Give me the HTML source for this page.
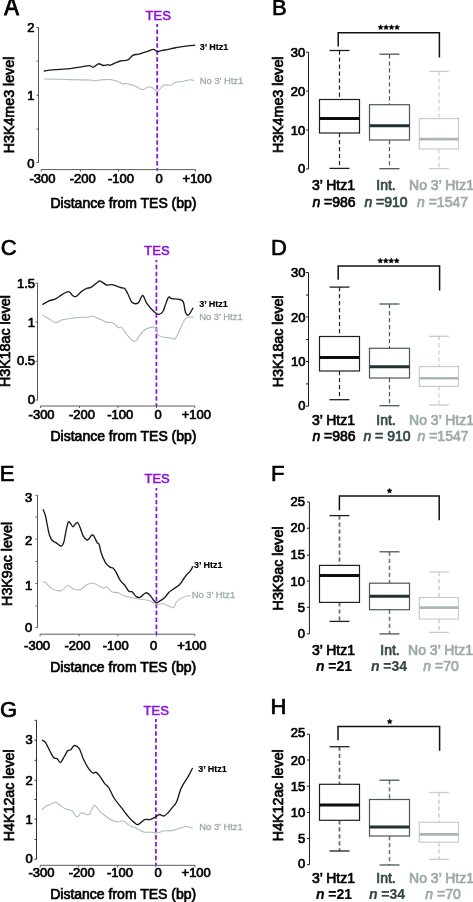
<!DOCTYPE html>
<html><head><meta charset="utf-8"><style>
html,body{margin:0;padding:0;background:#fff;}
body{width:473px;height:902px;overflow:hidden;}
svg{display:block;font-family:"Liberation Sans", sans-serif;filter:blur(0.3px);}
</style></head><body>
<svg width="473" height="902" viewBox="0 0 473 902">
<rect x="0" y="0" width="473" height="902" fill="#fff"/>
<g transform="translate(0,15.3) scale(1,1.14) translate(0,-15.3)">
<text x="4.2" y="15.3" font-size="22" text-anchor="start" fill="#000" stroke="#000" stroke-width="0.8" font-weight="normal">A</text>
</g>
<text x="158.2" y="19.7" font-size="13" text-anchor="middle" fill="#8a10e0" stroke="#8a10e0" stroke-width="0.55" font-weight="normal">TES</text>
<line x1="38.5" y1="27" x2="38.5" y2="163" stroke="#5a5a5a" stroke-width="1" />
<line x1="36.5" y1="27.5" x2="38.5" y2="27.5" stroke="#5a5a5a" stroke-width="1" />
<text x="34.6" y="31.6" font-size="13" text-anchor="end" fill="#000" stroke="#000" stroke-width="0.7" font-weight="normal">2</text>
<line x1="36.5" y1="61.2" x2="38.5" y2="61.2" stroke="#5a5a5a" stroke-width="1" />
<line x1="36.5" y1="95.3" x2="38.5" y2="95.3" stroke="#5a5a5a" stroke-width="1" />
<text x="34.6" y="99.9" font-size="13" text-anchor="end" fill="#000" stroke="#000" stroke-width="0.7" font-weight="normal">1</text>
<line x1="36.5" y1="129.1" x2="38.5" y2="129.1" stroke="#5a5a5a" stroke-width="1" />
<line x1="36.5" y1="162.6" x2="38.5" y2="162.6" stroke="#5a5a5a" stroke-width="1" />
<text x="34.6" y="167.8" font-size="13" text-anchor="end" fill="#000" stroke="#000" stroke-width="0.7" font-weight="normal">0</text>
<line x1="41.3" y1="169.6" x2="195.5" y2="169.6" stroke="#5a5a5a" stroke-width="1" />
<line x1="41.3" y1="169.6" x2="41.3" y2="171.6" stroke="#5a5a5a" stroke-width="1" />
<text x="42.4" y="183.2" font-size="13" text-anchor="middle" fill="#000" stroke="#000" stroke-width="0.7" font-weight="normal">-300</text>
<line x1="80.4" y1="169.6" x2="80.4" y2="171.6" stroke="#5a5a5a" stroke-width="1" />
<text x="82.8" y="183.2" font-size="13" text-anchor="middle" fill="#000" stroke="#000" stroke-width="0.7" font-weight="normal">-200</text>
<line x1="118.5" y1="169.6" x2="118.5" y2="171.6" stroke="#5a5a5a" stroke-width="1" />
<text x="121.0" y="183.2" font-size="13" text-anchor="middle" fill="#000" stroke="#000" stroke-width="0.7" font-weight="normal">-100</text>
<line x1="157.2" y1="169.6" x2="157.2" y2="171.6" stroke="#5a5a5a" stroke-width="1" />
<text x="159.0" y="183.2" font-size="13" text-anchor="middle" fill="#000" stroke="#000" stroke-width="0.7" font-weight="normal">0</text>
<line x1="195.5" y1="169.6" x2="195.5" y2="171.6" stroke="#5a5a5a" stroke-width="1" />
<text x="197.2" y="183.2" font-size="13" text-anchor="middle" fill="#000" stroke="#000" stroke-width="0.7" font-weight="normal">+100</text>
<text x="50.5" y="207.8" font-size="14" text-anchor="start" fill="#000" stroke="#000" stroke-width="0.7" font-weight="normal">Distance from TES (bp)</text>
<text x="0" y="0" font-size="14.25" text-anchor="middle" fill="#000" stroke="#000" stroke-width="0.7" transform="translate(14.1,105) rotate(-90)">H3K4me3 level</text>
<line x1="157.2" y1="24" x2="157.2" y2="169.6" stroke="#8a10e0" stroke-width="1.75" stroke-dasharray="4.45 2.47" stroke-dashoffset="1.4"/>
<path d="M44.3,79 C46.92,79.05 54.88,79.17 60,79.3 C65.12,79.43 70.00,79.68 75,79.8 C80.00,79.92 86.67,79.83 90,80 C93.33,80.17 93.33,80.80 95,80.8 C96.67,80.80 97.50,80.22 100,80 C102.50,79.78 107.07,79.27 110,79.5 C112.93,79.73 115.38,80.62 117.6,81.4 C119.82,82.18 122.03,83.88 123.3,84.2 C124.57,84.52 123.30,82.98 125.2,83.3 C127.10,83.62 131.85,85.05 134.7,86.1 C137.55,87.15 140.08,89.43 142.3,89.6 C144.52,89.77 146.40,87.45 148,87.1 C149.60,86.75 150.30,86.80 151.9,87.5 C153.50,88.20 155.70,91.68 157.6,91.3 C159.50,90.92 161.08,86.22 163.3,85.2 C165.52,84.18 168.85,85.68 170.9,85.2 C172.95,84.72 173.70,82.93 175.6,82.3 C177.50,81.67 179.92,81.82 182.3,81.4 C184.68,80.98 188.00,79.97 189.9,79.8 C191.80,79.63 193.07,80.30 193.7,80.4" fill="none" stroke="#abbcb7" stroke-width="1.05" stroke-linejoin="round" stroke-linecap="round"/>
<path d="M44.3,71 C45.25,70.87 47.38,70.47 50,70.2 C52.62,69.93 56.67,69.67 60,69.4 C63.33,69.13 66.67,68.97 70,68.6 C73.33,68.23 76.83,67.70 80,67.2 C83.17,66.70 86.77,65.60 89,65.6 C91.23,65.60 91.82,67.50 93.4,67.2 C94.98,66.90 96.82,64.08 98.5,63.8 C100.18,63.52 101.95,65.35 103.5,65.5 C105.05,65.65 106.72,64.75 107.8,64.7 C108.88,64.65 108.68,65.53 110,65.2 C111.32,64.87 113.95,63.40 115.7,62.7 C117.45,62.00 118.45,61.47 120.5,61 C122.55,60.53 125.95,60.85 128,59.9 C130.05,58.95 131.05,56.25 132.8,55.3 C134.55,54.35 136.60,54.70 138.5,54.2 C140.40,53.70 142.45,52.85 144.2,52.3 C145.95,51.75 147.47,51.38 149,50.9 C150.53,50.42 151.97,49.30 153.4,49.4 C154.83,49.50 156.12,51.33 157.6,51.5 C159.08,51.67 160.72,50.72 162.3,50.4 C163.88,50.08 165.03,50.00 167.1,49.6 C169.17,49.20 172.17,48.48 174.7,48 C177.23,47.52 180.08,47.07 182.3,46.7 C184.52,46.33 185.93,46.05 188,45.8 C190.07,45.55 193.58,45.30 194.7,45.2" fill="none" stroke="#1a1a1a" stroke-width="1.35" stroke-linejoin="round" stroke-linecap="round"/>
<text x="199.7" y="50.4" font-size="9" text-anchor="start" fill="#000" stroke="#000" stroke-width="0.15" font-weight="bold">3&#8217; Htz1</text>
<text x="199.8" y="84.0" font-size="9.4" text-anchor="start" fill="#9eaba8" stroke="#9eaba8" stroke-width="0.3" font-weight="normal">No 3&#8217; Htz1</text>
<text x="0.7" y="255.2" font-size="22" text-anchor="start" fill="#000" stroke="#000" stroke-width="0.7" font-weight="normal">C</text>
<text x="157" y="255" font-size="13" text-anchor="middle" fill="#8a10e0" stroke="#8a10e0" stroke-width="0.55" font-weight="normal">TES</text>
<line x1="37.5" y1="282.8" x2="37.5" y2="400.3" stroke="#5a5a5a" stroke-width="1" />
<line x1="35.5" y1="283.2" x2="37.5" y2="283.2" stroke="#5a5a5a" stroke-width="1" />
<text x="35" y="287.5" font-size="13" text-anchor="end" fill="#000" stroke="#000" stroke-width="0.7" font-weight="normal">1.5</text>
<line x1="35.5" y1="322" x2="37.5" y2="322" stroke="#5a5a5a" stroke-width="1" />
<text x="35" y="327.1" font-size="13" text-anchor="end" fill="#000" stroke="#000" stroke-width="0.7" font-weight="normal">1</text>
<line x1="35.5" y1="361.3" x2="37.5" y2="361.3" stroke="#5a5a5a" stroke-width="1" />
<text x="35" y="365.2" font-size="13" text-anchor="end" fill="#000" stroke="#000" stroke-width="0.7" font-weight="normal">0.5</text>
<line x1="35.5" y1="400.1" x2="37.5" y2="400.1" stroke="#5a5a5a" stroke-width="1" />
<text x="35" y="404" font-size="13" text-anchor="end" fill="#000" stroke="#000" stroke-width="0.7" font-weight="normal">0</text>
<line x1="40.6" y1="406" x2="194.8" y2="406" stroke="#5a5a5a" stroke-width="1" />
<line x1="40.6" y1="406" x2="40.6" y2="408" stroke="#5a5a5a" stroke-width="1" />
<text x="41.6" y="418.8" font-size="13" text-anchor="middle" fill="#000" stroke="#000" stroke-width="0.7" font-weight="normal">-300</text>
<line x1="79.5" y1="406" x2="79.5" y2="408" stroke="#5a5a5a" stroke-width="1" />
<text x="82.0" y="418.8" font-size="13" text-anchor="middle" fill="#000" stroke="#000" stroke-width="0.7" font-weight="normal">-200</text>
<line x1="118.0" y1="406" x2="118.0" y2="408" stroke="#5a5a5a" stroke-width="1" />
<text x="120.2" y="418.8" font-size="13" text-anchor="middle" fill="#000" stroke="#000" stroke-width="0.7" font-weight="normal">-100</text>
<line x1="156.5" y1="406" x2="156.5" y2="408" stroke="#5a5a5a" stroke-width="1" />
<text x="158.2" y="418.8" font-size="13" text-anchor="middle" fill="#000" stroke="#000" stroke-width="0.7" font-weight="normal">0</text>
<line x1="194.8" y1="406" x2="194.8" y2="408" stroke="#5a5a5a" stroke-width="1" />
<text x="196.39999999999998" y="418.8" font-size="13" text-anchor="middle" fill="#000" stroke="#000" stroke-width="0.7" font-weight="normal">+100</text>
<text x="50.5" y="441.2" font-size="14" text-anchor="start" fill="#000" stroke="#000" stroke-width="0.7" font-weight="normal">Distance from TES (bp)</text>
<text x="0" y="0" font-size="14.25" text-anchor="middle" fill="#000" stroke="#000" stroke-width="0.7" transform="translate(10.4,341.1) rotate(-90)">H3K18ac level</text>
<line x1="156.4" y1="260" x2="156.4" y2="406" stroke="#8a10e0" stroke-width="1.75" stroke-dasharray="4.45 2.47" stroke-dashoffset="2.15"/>
<path d="M42.9,315.5 C43.68,315.92 45.42,316.80 47.6,318 C49.78,319.20 53.72,322.35 56,322.7 C58.28,323.05 59.00,320.82 61.3,320.1 C63.60,319.38 66.98,318.85 69.8,318.4 C72.62,317.95 75.38,317.60 78.2,317.4 C81.02,317.20 84.23,317.38 86.7,317.2 C89.17,317.02 91.62,316.32 93,316.3 C94.38,316.28 93.62,316.52 95,317.1 C96.38,317.68 99.18,318.92 101.3,319.8 C103.42,320.68 105.75,321.87 107.7,322.4 C109.65,322.93 111.23,322.12 113,323 C114.77,323.88 116.90,327.00 118.3,327.7 C119.70,328.40 120.00,326.10 121.4,327.2 C122.80,328.30 124.53,331.92 126.7,334.3 C128.87,336.68 132.10,341.50 134.4,341.5 C136.70,341.50 138.62,336.33 140.5,334.3 C142.38,332.27 143.23,330.48 145.7,329.3 C148.17,328.12 153.18,326.25 155.3,327.2 C157.42,328.15 157.00,333.33 158.4,335 C159.80,336.67 161.75,336.73 163.7,337.2 C165.65,337.67 168.17,337.57 170.1,337.8 C172.03,338.03 173.55,340.28 175.3,338.6 C177.05,336.92 178.83,331.12 180.6,327.7 C182.37,324.28 183.78,319.87 185.9,318.1 C188.02,316.33 192.07,317.27 193.3,317.1" fill="none" stroke="#abbcb7" stroke-width="1.05" stroke-linejoin="round" stroke-linecap="round"/>
<path d="M42.9,304.3 C43.85,303.77 46.42,302.05 48.6,301.1 C50.78,300.15 53.70,299.73 56,298.6 C58.30,297.47 60.28,295.47 62.4,294.3 C64.52,293.13 66.95,291.35 68.7,291.6 C70.45,291.85 71.67,294.98 72.9,295.8 C74.13,296.62 74.68,297.20 76.1,296.5 C77.52,295.80 79.63,292.95 81.4,291.6 C83.17,290.25 85.12,289.10 86.7,288.4 C88.28,287.70 89.13,288.38 90.9,287.4 C92.67,286.42 95.73,283.55 97.3,282.5 C98.87,281.45 98.75,280.68 100.3,281.1 C101.85,281.52 104.67,284.40 106.6,285 C108.53,285.60 109.60,284.28 111.9,284.7 C114.20,285.12 118.28,286.87 120.4,287.5 C122.52,288.13 123.37,287.45 124.6,288.5 C125.83,289.55 126.57,291.50 127.8,293.8 C129.03,296.10 130.25,300.78 132,302.3 C133.75,303.82 136.53,304.03 138.3,302.9 C140.07,301.77 141.18,295.43 142.6,295.5 C144.02,295.57 145.05,300.77 146.8,303.3 C148.55,305.83 151.17,308.87 153.1,310.7 C155.03,312.53 156.80,314.12 158.4,314.3 C160.00,314.48 161.60,313.17 162.7,311.8 C163.80,310.43 164.03,308.53 165,306.1 C165.97,303.67 167.38,298.43 168.5,297.2 C169.62,295.97 169.93,298.35 171.7,298.7 C173.47,299.05 177.17,298.77 179.1,299.3 C181.03,299.83 182.23,299.70 183.3,301.9 C184.37,304.10 184.62,310.32 185.5,312.5 C186.38,314.68 187.37,315.72 188.6,315 C189.83,314.28 192.18,309.33 192.9,308.2" fill="none" stroke="#1a1a1a" stroke-width="1.35" stroke-linejoin="round" stroke-linecap="round"/>
<text x="199.2" y="307.0" font-size="9" text-anchor="start" fill="#000" stroke="#000" stroke-width="0.15" font-weight="bold">3&#8217; Htz1</text>
<text x="199.2" y="320.3" font-size="9.4" text-anchor="start" fill="#9eaba8" stroke="#9eaba8" stroke-width="0.3" font-weight="normal">No 3&#8217; Htz1</text>
<text x="-0.3" y="481" font-size="22" text-anchor="start" fill="#000" stroke="#000" stroke-width="0.7" font-weight="normal">E</text>
<text x="157.1" y="483.4" font-size="13" text-anchor="middle" fill="#8a10e0" stroke="#8a10e0" stroke-width="0.55" font-weight="normal">TES</text>
<line x1="37.5" y1="495.3" x2="37.5" y2="627.6" stroke="#5a5a5a" stroke-width="1" />
<line x1="35.5" y1="495.3" x2="37.5" y2="495.3" stroke="#5a5a5a" stroke-width="1" />
<text x="32.3" y="502" font-size="13" text-anchor="end" fill="#000" stroke="#000" stroke-width="0.7" font-weight="normal">3</text>
<line x1="35.5" y1="517.1" x2="37.5" y2="517.1" stroke="#5a5a5a" stroke-width="1" />
<line x1="35.5" y1="539.1" x2="37.5" y2="539.1" stroke="#5a5a5a" stroke-width="1" />
<text x="32.3" y="545" font-size="13" text-anchor="end" fill="#000" stroke="#000" stroke-width="0.7" font-weight="normal">2</text>
<line x1="35.5" y1="561.5" x2="37.5" y2="561.5" stroke="#5a5a5a" stroke-width="1" />
<line x1="35.5" y1="583.5" x2="37.5" y2="583.5" stroke="#5a5a5a" stroke-width="1" />
<text x="32.3" y="589.6" font-size="13" text-anchor="end" fill="#000" stroke="#000" stroke-width="0.7" font-weight="normal">1</text>
<line x1="35.5" y1="606" x2="37.5" y2="606" stroke="#5a5a5a" stroke-width="1" />
<line x1="35.5" y1="627.6" x2="37.5" y2="627.6" stroke="#5a5a5a" stroke-width="1" />
<text x="32.3" y="631.7" font-size="13" text-anchor="end" fill="#000" stroke="#000" stroke-width="0.7" font-weight="normal">0</text>
<line x1="40.1" y1="634.2" x2="194.8" y2="634.2" stroke="#5a5a5a" stroke-width="1" />
<line x1="40.1" y1="634.2" x2="40.1" y2="636.2" stroke="#5a5a5a" stroke-width="1" />
<text x="37.1" y="650.0" font-size="13" text-anchor="middle" fill="#000" stroke="#000" stroke-width="0.7" font-weight="normal">-300</text>
<line x1="79.2" y1="634.2" x2="79.2" y2="636.2" stroke="#5a5a5a" stroke-width="1" />
<text x="77.5" y="650.0" font-size="13" text-anchor="middle" fill="#000" stroke="#000" stroke-width="0.7" font-weight="normal">-200</text>
<line x1="117.8" y1="634.2" x2="117.8" y2="636.2" stroke="#5a5a5a" stroke-width="1" />
<text x="115.7" y="650.0" font-size="13" text-anchor="middle" fill="#000" stroke="#000" stroke-width="0.7" font-weight="normal">-100</text>
<line x1="156.4" y1="634.2" x2="156.4" y2="636.2" stroke="#5a5a5a" stroke-width="1" />
<text x="153.7" y="650.0" font-size="13" text-anchor="middle" fill="#000" stroke="#000" stroke-width="0.7" font-weight="normal">0</text>
<line x1="194.8" y1="634.2" x2="194.8" y2="636.2" stroke="#5a5a5a" stroke-width="1" />
<text x="191.89999999999998" y="650.0" font-size="13" text-anchor="middle" fill="#000" stroke="#000" stroke-width="0.7" font-weight="normal">+100</text>
<text x="50.2" y="671.6" font-size="14" text-anchor="start" fill="#000" stroke="#000" stroke-width="0.7" font-weight="normal">Distance from TES (bp)</text>
<text x="0" y="0" font-size="14.25" text-anchor="middle" fill="#000" stroke="#000" stroke-width="0.7" transform="translate(12.0,563.9) rotate(-90)">H3K9ac level</text>
<line x1="156.4" y1="488" x2="156.4" y2="634.2" stroke="#8a10e0" stroke-width="1.75" stroke-dasharray="4.45 2.47" stroke-dashoffset="1.95"/>
<path d="M43.3,581.9 C43.67,581.97 44.08,581.18 45.5,582.3 C46.92,583.42 49.17,587.20 51.8,588.6 C54.43,590.00 58.65,591.22 61.3,590.7 C63.95,590.18 65.77,585.85 67.7,585.5 C69.63,585.15 70.80,587.90 72.9,588.6 C75.00,589.30 78.00,590.33 80.3,589.7 C82.60,589.07 84.58,585.87 86.7,584.8 C88.82,583.73 90.92,583.10 93,583.3 C95.08,583.50 97.45,585.20 99.2,586 C100.95,586.80 102.27,587.92 103.5,588.1 C104.73,588.28 105.20,586.50 106.6,587.1 C108.00,587.70 109.95,590.75 111.9,591.7 C113.85,592.65 116.18,592.08 118.3,592.8 C120.42,593.52 121.43,595.02 124.6,596 C127.77,596.98 133.25,597.97 137.3,598.7 C141.35,599.43 146.08,599.70 148.9,600.4 C151.72,601.10 152.78,602.13 154.2,602.9 C155.62,603.67 155.98,604.88 157.4,605 C158.82,605.12 160.77,603.42 162.7,603.6 C164.63,603.78 167.20,605.43 169,606.1 C170.80,606.77 172.25,608.28 173.5,607.6 C174.75,606.92 174.87,603.75 176.5,602 C178.13,600.25 181.03,598.18 183.3,597.1 C185.57,596.02 188.97,595.77 190.1,595.5" fill="none" stroke="#abbcb7" stroke-width="1.05" stroke-linejoin="round" stroke-linecap="round"/>
<path d="M43.2,509.8 C43.55,510.68 44.60,512.45 45.3,515.1 C46.00,517.75 46.70,522.35 47.4,525.7 C48.10,529.05 48.68,532.73 49.5,535.2 C50.32,537.67 51.23,539.27 52.3,540.5 C53.37,541.73 54.43,541.65 55.9,542.6 C57.37,543.55 59.80,546.20 61.1,546.2 C62.40,546.20 62.98,544.62 63.7,542.6 C64.42,540.58 64.67,537.45 65.4,534.1 C66.13,530.75 67.30,524.33 68.1,522.5 C68.90,520.67 69.42,522.40 70.2,523.1 C70.98,523.80 72.02,526.45 72.8,526.7 C73.58,526.95 74.10,525.30 74.9,524.6 C75.70,523.90 76.72,521.97 77.6,522.5 C78.48,523.03 79.25,525.52 80.2,527.8 C81.15,530.08 82.07,534.17 83.3,536.2 C84.53,538.23 86.18,540.17 87.6,540 C89.02,539.83 90.75,535.83 91.8,535.2 C92.85,534.57 93.02,534.97 93.9,536.2 C94.78,537.43 96.22,541.18 97.1,542.6 C97.98,544.02 98.50,542.92 99.2,544.7 C99.90,546.48 100.23,550.28 101.3,553.3 C102.37,556.32 104.18,560.52 105.6,562.8 C107.02,565.08 108.57,566.12 109.8,567 C111.03,567.88 111.95,567.22 113,568.1 C114.05,568.98 114.87,570.20 116.1,572.3 C117.33,574.40 118.98,578.58 120.4,580.7 C121.82,582.82 123.20,583.23 124.6,585 C126.00,586.77 127.57,590.18 128.8,591.3 C130.03,592.42 130.77,590.82 132,591.7 C133.23,592.58 134.78,595.68 136.2,596.6 C137.62,597.52 138.92,597.83 140.5,597.2 C142.08,596.57 144.12,593.13 145.7,592.8 C147.28,592.47 148.65,593.92 150,595.2 C151.35,596.48 152.68,599.23 153.8,600.5 C154.92,601.77 155.90,602.58 156.7,602.8 C157.50,603.02 157.33,602.60 158.6,601.8 C159.87,601.00 162.57,599.58 164.3,598 C166.03,596.42 167.58,593.72 169,592.3 C170.42,590.88 171.05,590.77 172.8,589.5 C174.55,588.23 177.60,586.62 179.5,584.7 C181.40,582.78 182.93,579.75 184.2,578 C185.47,576.25 186.13,575.30 187.1,574.2 C188.07,573.10 189.05,572.67 190,571.4 C190.95,570.13 192.33,567.40 192.8,566.6" fill="none" stroke="#1a1a1a" stroke-width="1.35" stroke-linejoin="round" stroke-linecap="round"/>
<text x="193.9" y="568.2" font-size="9" text-anchor="start" fill="#000" stroke="#000" stroke-width="0.15" font-weight="bold">3&#8217; Htz1</text>
<text x="191.7" y="598.3" font-size="9.4" text-anchor="start" fill="#9eaba8" stroke="#9eaba8" stroke-width="0.3" font-weight="normal">No 3&#8217; Htz1</text>
<text x="0" y="716.5" font-size="22" text-anchor="start" fill="#000" stroke="#000" stroke-width="0.7" font-weight="normal">G</text>
<text x="156.2" y="714.8" font-size="13" text-anchor="middle" fill="#8a10e0" stroke="#8a10e0" stroke-width="0.55" font-weight="normal">TES</text>
<line x1="36.5" y1="720.2" x2="36.5" y2="859.3" stroke="#333" stroke-width="1" />
<line x1="34.5" y1="720.3" x2="36.5" y2="720.3" stroke="#333" stroke-width="1" />
<line x1="34.5" y1="740.3" x2="36.5" y2="740.3" stroke="#333" stroke-width="1" />
<text x="32.7" y="744.4" font-size="13" text-anchor="end" fill="#000" stroke="#000" stroke-width="0.7" font-weight="normal">3</text>
<line x1="34.5" y1="760.3" x2="36.5" y2="760.3" stroke="#333" stroke-width="1" />
<line x1="34.5" y1="780.3" x2="36.5" y2="780.3" stroke="#333" stroke-width="1" />
<text x="32.7" y="784.5" font-size="13" text-anchor="end" fill="#000" stroke="#000" stroke-width="0.7" font-weight="normal">2</text>
<line x1="34.5" y1="799.5" x2="36.5" y2="799.5" stroke="#333" stroke-width="1" />
<line x1="34.5" y1="819.1" x2="36.5" y2="819.1" stroke="#333" stroke-width="1" />
<text x="32.7" y="824.2" font-size="13" text-anchor="end" fill="#000" stroke="#000" stroke-width="0.7" font-weight="normal">1</text>
<line x1="34.5" y1="839.6" x2="36.5" y2="839.6" stroke="#333" stroke-width="1" />
<line x1="34.5" y1="859.3" x2="36.5" y2="859.3" stroke="#333" stroke-width="1" />
<text x="32.7" y="862.6" font-size="13" text-anchor="end" fill="#000" stroke="#000" stroke-width="0.7" font-weight="normal">0</text>
<line x1="40.2" y1="865.3" x2="195.0" y2="865.3" stroke="#5a5a5a" stroke-width="1" />
<line x1="40.2" y1="865.3" x2="40.2" y2="867.3" stroke="#5a5a5a" stroke-width="1" />
<text x="41.4" y="877.0" font-size="13" text-anchor="middle" fill="#000" stroke="#000" stroke-width="0.7" font-weight="normal">-300</text>
<line x1="78.6" y1="865.3" x2="78.6" y2="867.3" stroke="#5a5a5a" stroke-width="1" />
<text x="81.8" y="877.0" font-size="13" text-anchor="middle" fill="#000" stroke="#000" stroke-width="0.7" font-weight="normal">-200</text>
<line x1="117.5" y1="865.3" x2="117.5" y2="867.3" stroke="#5a5a5a" stroke-width="1" />
<text x="120.0" y="877.0" font-size="13" text-anchor="middle" fill="#000" stroke="#000" stroke-width="0.7" font-weight="normal">-100</text>
<line x1="155.9" y1="865.3" x2="155.9" y2="867.3" stroke="#5a5a5a" stroke-width="1" />
<text x="158.0" y="877.0" font-size="13" text-anchor="middle" fill="#000" stroke="#000" stroke-width="0.7" font-weight="normal">0</text>
<line x1="195.0" y1="865.3" x2="195.0" y2="867.3" stroke="#5a5a5a" stroke-width="1" />
<text x="196.2" y="877.0" font-size="13" text-anchor="middle" fill="#000" stroke="#000" stroke-width="0.7" font-weight="normal">+100</text>
<text x="50.2" y="898.8" font-size="14" text-anchor="start" fill="#000" stroke="#000" stroke-width="0.7" font-weight="normal">Distance from TES (bp)</text>
<text x="0" y="0" font-size="14.25" text-anchor="middle" fill="#000" stroke="#000" stroke-width="0.7" transform="translate(13.6,795.3) rotate(-90)">H4K12ac level</text>
<line x1="155.9" y1="719" x2="155.9" y2="865.3" stroke="#8a10e0" stroke-width="1.75" stroke-dasharray="4.45 2.47" stroke-dashoffset="1.55"/>
<path d="M42.3,809.6 C42.83,809.07 44.10,807.28 45.5,806.4 C46.90,805.52 48.95,805.00 50.7,804.3 C52.45,803.60 54.23,801.85 56,802.2 C57.77,802.55 59.53,805.23 61.3,806.4 C63.07,807.57 64.83,808.48 66.6,809.2 C68.37,809.92 70.32,809.50 71.9,810.7 C73.48,811.90 75.05,815.45 76.1,816.4 C77.15,817.35 77.32,817.00 78.2,816.4 C79.08,815.80 79.98,813.12 81.4,812.8 C82.82,812.48 85.28,814.33 86.7,814.5 C88.12,814.67 88.67,815.32 89.9,813.8 C91.13,812.28 92.37,805.73 94.1,805.4 C95.83,805.07 98.38,810.03 100.3,811.8 C102.22,813.57 103.67,814.58 105.6,816 C107.53,817.42 109.78,819.30 111.9,820.3 C114.02,821.30 116.37,821.90 118.3,822 C120.23,822.10 121.75,820.38 123.5,820.9 C125.25,821.42 126.68,823.90 128.8,825.1 C130.92,826.30 133.73,826.97 136.2,828.1 C138.67,829.23 141.13,831.20 143.6,831.9 C146.07,832.60 148.70,832.13 151,832.3 C153.30,832.47 155.10,833.15 157.4,832.9 C159.70,832.65 162.52,831.15 164.8,830.8 C167.08,830.45 168.82,831.15 171.1,830.8 C173.38,830.45 176.03,829.40 178.5,828.7 C180.97,828.00 183.60,826.70 185.9,826.6 C188.20,826.50 191.23,827.85 192.3,828.1" fill="none" stroke="#abbcb7" stroke-width="1.05" stroke-linejoin="round" stroke-linecap="round"/>
<path d="M42.3,740.3 C42.83,740.65 44.27,740.65 45.5,742.4 C46.73,744.15 48.30,748.23 49.7,750.8 C51.10,753.37 52.67,756.50 53.9,757.8 C55.13,759.10 56.03,757.82 57.1,758.6 C58.17,759.38 59.25,762.57 60.3,762.5 C61.35,762.43 62.17,760.15 63.4,758.2 C64.63,756.25 66.47,752.20 67.7,750.8 C68.93,749.40 69.68,750.68 70.8,749.8 C71.92,748.92 72.98,745.68 74.4,745.5 C75.82,745.32 77.78,746.40 79.3,748.7 C80.82,751.00 81.92,755.95 83.5,759.3 C85.08,762.65 87.22,766.52 88.8,768.8 C90.38,771.08 91.77,772.40 93,773 C94.23,773.60 94.98,771.75 96.2,772.4 C97.42,773.05 98.92,775.08 100.3,776.9 C101.68,778.72 103.10,781.53 104.5,783.3 C105.90,785.07 107.12,785.05 108.7,787.5 C110.28,789.95 111.88,794.65 114,798 C116.12,801.35 118.93,804.42 121.4,807.6 C123.87,810.78 126.68,814.63 128.8,817.1 C130.92,819.57 132.52,821.17 134.1,822.4 C135.68,823.63 136.53,824.97 138.3,824.5 C140.07,824.03 142.75,820.42 144.7,819.6 C146.65,818.78 148.23,820.02 150,819.6 C151.77,819.18 153.72,817.95 155.3,817.1 C156.88,816.25 158.10,814.68 159.5,814.5 C160.90,814.32 162.30,816.27 163.7,816 C165.10,815.73 166.48,814.30 167.9,812.9 C169.32,811.50 170.78,809.37 172.2,807.6 C173.62,805.83 175.00,805.30 176.4,802.3 C177.80,799.30 179.37,792.77 180.6,789.6 C181.83,786.43 182.57,785.42 183.8,783.3 C185.03,781.18 186.58,779.37 188,776.9 C189.42,774.43 191.58,769.90 192.3,768.5" fill="none" stroke="#1a1a1a" stroke-width="1.35" stroke-linejoin="round" stroke-linecap="round"/>
<text x="198.2" y="771.8" font-size="9" text-anchor="start" fill="#000" stroke="#000" stroke-width="0.15" font-weight="bold">3&#8217; Htz1</text>
<text x="199.3" y="829.9" font-size="9.4" text-anchor="start" fill="#9eaba8" stroke="#9eaba8" stroke-width="0.3" font-weight="normal">No 3&#8217; Htz1</text>
<text x="272.0" y="15.2" font-size="22" text-anchor="start" fill="#000" stroke="#000" stroke-width="0.7" font-weight="normal">B</text>
<line x1="308.5" y1="52.2" x2="308.5" y2="169" stroke="#1e1e1e" stroke-width="1" />
<line x1="306.0" y1="52.2" x2="308.5" y2="52.2" stroke="#1e1e1e" stroke-width="1" />
<text x="305.3" y="56.6" font-size="13" text-anchor="end" fill="#000" stroke="#000" stroke-width="0.7" font-weight="normal">30</text>
<line x1="306.0" y1="91" x2="308.5" y2="91" stroke="#1e1e1e" stroke-width="1" />
<text x="305.3" y="95.6" font-size="13" text-anchor="end" fill="#000" stroke="#000" stroke-width="0.7" font-weight="normal">20</text>
<line x1="306.0" y1="130" x2="308.5" y2="130" stroke="#1e1e1e" stroke-width="1" />
<text x="305.3" y="134.5" font-size="13" text-anchor="end" fill="#000" stroke="#000" stroke-width="0.7" font-weight="normal">10</text>
<line x1="306.0" y1="169" x2="308.5" y2="169" stroke="#1e1e1e" stroke-width="1" />
<text x="305.3" y="172.6" font-size="13" text-anchor="end" fill="#000" stroke="#000" stroke-width="0.7" font-weight="normal">0</text>
<text x="0" y="0" font-size="14.25" text-anchor="middle" fill="#000" stroke="#000" stroke-width="0.7" transform="translate(283.0,104.8) rotate(-90)">H3K4me3 level</text>
<polyline points="338.2,46.5 338.2,32.7 439.4,32.7 439.4,57.6" fill="none" stroke="#111" stroke-width="1.5"/>
<polygon points="380.60,24.65 381.39,26.31 383.22,26.55 381.88,27.82 382.22,29.62 380.60,28.75 378.98,29.62 379.32,27.82 377.98,26.55 379.81,26.31" fill="#000" stroke="#000" stroke-width="0.4" stroke-linejoin="round"/>
<polygon points="386.10,24.65 386.89,26.31 388.72,26.55 387.38,27.82 387.72,29.62 386.10,28.75 384.48,29.62 384.82,27.82 383.48,26.55 385.31,26.31" fill="#000" stroke="#000" stroke-width="0.4" stroke-linejoin="round"/>
<polygon points="391.50,24.65 392.29,26.31 394.12,26.55 392.78,27.82 393.12,29.62 391.50,28.75 389.88,29.62 390.22,27.82 388.88,26.55 390.71,26.31" fill="#000" stroke="#000" stroke-width="0.4" stroke-linejoin="round"/>
<polygon points="397.00,24.65 397.79,26.31 399.62,26.55 398.28,27.82 398.62,29.62 397.00,28.75 395.38,29.62 395.72,27.82 394.38,26.55 396.21,26.31" fill="#000" stroke="#000" stroke-width="0.4" stroke-linejoin="round"/>
<line x1="339.5" y1="50.5" x2="339.5" y2="99.5" stroke="#1e1e1e" stroke-width="1.2" stroke-dasharray="4.2 2.8"/>
<line x1="339.5" y1="133" x2="339.5" y2="168.4" stroke="#1e1e1e" stroke-width="1.2" stroke-dasharray="4.2 2.8"/>
<line x1="329.5" y1="50.5" x2="349.5" y2="50.5" stroke="#1e1e1e" stroke-width="1.3" />
<line x1="329.5" y1="168.4" x2="349.5" y2="168.4" stroke="#1e1e1e" stroke-width="1.3" />
<rect x="319.5" y="99.5" width="40" height="33.50" fill="#fff" stroke="#1e1e1e" stroke-width="1.2"/>
<line x1="319.5" y1="118.4" x2="359.5" y2="118.4" stroke="#0e0e0e" stroke-width="3" />
<line x1="389.5" y1="54.2" x2="389.5" y2="104.7" stroke="#485856" stroke-width="1.2" stroke-dasharray="4.2 2.8"/>
<line x1="389.5" y1="140" x2="389.5" y2="168.7" stroke="#485856" stroke-width="1.2" stroke-dasharray="4.2 2.8"/>
<line x1="379.5" y1="54.2" x2="399.5" y2="54.2" stroke="#485856" stroke-width="1.3" />
<line x1="379.5" y1="168.7" x2="399.5" y2="168.7" stroke="#485856" stroke-width="1.3" />
<rect x="369.5" y="104.7" width="40" height="35.30" fill="#fff" stroke="#485856" stroke-width="1.2"/>
<line x1="369.5" y1="125.7" x2="409.5" y2="125.7" stroke="#223232" stroke-width="3" />
<line x1="438.9" y1="71.4" x2="438.9" y2="118.6" stroke="#c6cecc" stroke-width="1.2" stroke-dasharray="4.2 2.8"/>
<line x1="438.9" y1="149" x2="438.9" y2="168.7" stroke="#c6cecc" stroke-width="1.2" stroke-dasharray="4.2 2.8"/>
<line x1="428.9" y1="71.4" x2="448.9" y2="71.4" stroke="#c6cecc" stroke-width="1.3" />
<line x1="428.9" y1="168.7" x2="448.9" y2="168.7" stroke="#c6cecc" stroke-width="1.3" />
<rect x="419.29999999999995" y="118.6" width="39.2" height="30.40" fill="#fff" stroke="#c6cecc" stroke-width="1.2"/>
<line x1="419.29999999999995" y1="139.1" x2="458.49999999999994" y2="139.1" stroke="#acb7b4" stroke-width="2.6" />
<text x="333.5" y="190.4" font-size="14" text-anchor="middle" fill="#000" stroke="#000" stroke-width="0.7" font-weight="normal">3&#8217; Htz1</text>
<text x="386" y="190.4" font-size="14" text-anchor="middle" fill="#334845" stroke="#334845" stroke-width="0.7" font-weight="normal">Int.</text>
<text x="441.5" y="190.4" font-size="14" text-anchor="middle" fill="#9daba7" stroke="#9daba7" stroke-width="0.7" font-weight="normal">No 3&#8217; Htz1</text>
<text x="334" y="207.0" font-size="14" text-anchor="middle" fill="#000" stroke="#000" stroke-width="0.7" font-weight="normal"><tspan font-style="italic">n</tspan> =986</text>
<text x="386" y="207.0" font-size="14" text-anchor="middle" fill="#334845" stroke="#334845" stroke-width="0.7" font-weight="normal"><tspan font-style="italic">n</tspan> =910</text>
<text x="442.5" y="207.0" font-size="14" text-anchor="middle" fill="#9daba7" stroke="#9daba7" stroke-width="0.7" font-weight="normal"><tspan font-style="italic">n</tspan> =1547</text>
<text x="270.9" y="255" font-size="22" text-anchor="start" fill="#000" stroke="#000" stroke-width="0.7" font-weight="normal">D</text>
<line x1="308.5" y1="272.5" x2="308.5" y2="406.2" stroke="#1e1e1e" stroke-width="1" />
<line x1="306.0" y1="272.5" x2="308.5" y2="272.5" stroke="#1e1e1e" stroke-width="1" />
<text x="305.5" y="277.4" font-size="13" text-anchor="end" fill="#000" stroke="#000" stroke-width="0.7" font-weight="normal">30</text>
<line x1="306.0" y1="295" x2="308.5" y2="295" stroke="#1e1e1e" stroke-width="1" />
<line x1="306.0" y1="316.9" x2="308.5" y2="316.9" stroke="#1e1e1e" stroke-width="1" />
<text x="305.5" y="322.2" font-size="13" text-anchor="end" fill="#000" stroke="#000" stroke-width="0.7" font-weight="normal">20</text>
<line x1="306.0" y1="339.5" x2="308.5" y2="339.5" stroke="#1e1e1e" stroke-width="1" />
<line x1="306.0" y1="361.5" x2="308.5" y2="361.5" stroke="#1e1e1e" stroke-width="1" />
<text x="305.5" y="366.2" font-size="13" text-anchor="end" fill="#000" stroke="#000" stroke-width="0.7" font-weight="normal">10</text>
<line x1="306.0" y1="383.9" x2="308.5" y2="383.9" stroke="#1e1e1e" stroke-width="1" />
<line x1="306.0" y1="406.2" x2="308.5" y2="406.2" stroke="#1e1e1e" stroke-width="1" />
<text x="305.5" y="409.5" font-size="13" text-anchor="end" fill="#000" stroke="#000" stroke-width="0.7" font-weight="normal">0</text>
<text x="0" y="0" font-size="14.25" text-anchor="middle" fill="#000" stroke="#000" stroke-width="0.7" transform="translate(282.8,341.3) rotate(-90)">H3K18ac level</text>
<polyline points="338.2,279.7 338.2,266 439.6,266 439.6,290.6" fill="none" stroke="#111" stroke-width="1.5"/>
<polygon points="380.30,258.05 381.09,259.71 382.92,259.95 381.58,261.22 381.92,263.02 380.30,262.15 378.68,263.02 379.02,261.22 377.68,259.95 379.51,259.71" fill="#000" stroke="#000" stroke-width="0.4" stroke-linejoin="round"/>
<polygon points="385.80,258.05 386.59,259.71 388.42,259.95 387.08,261.22 387.42,263.02 385.80,262.15 384.18,263.02 384.52,261.22 383.18,259.95 385.01,259.71" fill="#000" stroke="#000" stroke-width="0.4" stroke-linejoin="round"/>
<polygon points="391.20,258.05 391.99,259.71 393.82,259.95 392.48,261.22 392.82,263.02 391.20,262.15 389.58,263.02 389.92,261.22 388.58,259.95 390.41,259.71" fill="#000" stroke="#000" stroke-width="0.4" stroke-linejoin="round"/>
<polygon points="396.70,258.05 397.49,259.71 399.32,259.95 397.98,261.22 398.32,263.02 396.70,262.15 395.08,263.02 395.42,261.22 394.08,259.95 395.91,259.71" fill="#000" stroke="#000" stroke-width="0.4" stroke-linejoin="round"/>
<line x1="339.5" y1="287.1" x2="339.5" y2="336.5" stroke="#1e1e1e" stroke-width="1.2" stroke-dasharray="4.2 2.8"/>
<line x1="339.5" y1="371" x2="339.5" y2="399.7" stroke="#1e1e1e" stroke-width="1.2" stroke-dasharray="4.2 2.8"/>
<line x1="329.5" y1="287.1" x2="349.5" y2="287.1" stroke="#1e1e1e" stroke-width="1.3" />
<line x1="329.5" y1="399.7" x2="349.5" y2="399.7" stroke="#1e1e1e" stroke-width="1.3" />
<rect x="319.5" y="336.5" width="40" height="34.50" fill="#fff" stroke="#1e1e1e" stroke-width="1.2"/>
<line x1="319.5" y1="357.5" x2="359.5" y2="357.5" stroke="#0e0e0e" stroke-width="3" />
<line x1="389.5" y1="304" x2="389.5" y2="348.3" stroke="#485856" stroke-width="1.2" stroke-dasharray="4.2 2.8"/>
<line x1="389.5" y1="378" x2="389.5" y2="405.7" stroke="#485856" stroke-width="1.2" stroke-dasharray="4.2 2.8"/>
<line x1="379.5" y1="304" x2="399.5" y2="304" stroke="#485856" stroke-width="1.3" />
<line x1="379.5" y1="405.7" x2="399.5" y2="405.7" stroke="#485856" stroke-width="1.3" />
<rect x="369.5" y="348.3" width="40" height="29.70" fill="#fff" stroke="#485856" stroke-width="1.2"/>
<line x1="369.5" y1="366.8" x2="409.5" y2="366.8" stroke="#223232" stroke-width="3" />
<line x1="438.9" y1="336.3" x2="438.9" y2="366.6" stroke="#c6cecc" stroke-width="1.2" stroke-dasharray="4.2 2.8"/>
<line x1="438.9" y1="386.4" x2="438.9" y2="405" stroke="#c6cecc" stroke-width="1.2" stroke-dasharray="4.2 2.8"/>
<line x1="428.9" y1="336.3" x2="448.9" y2="336.3" stroke="#c6cecc" stroke-width="1.3" />
<line x1="428.9" y1="405" x2="448.9" y2="405" stroke="#c6cecc" stroke-width="1.3" />
<rect x="419.29999999999995" y="366.6" width="39.2" height="19.80" fill="#fff" stroke="#c6cecc" stroke-width="1.2"/>
<line x1="419.29999999999995" y1="378.2" x2="458.49999999999994" y2="378.2" stroke="#acb7b4" stroke-width="2.6" />
<text x="333.5" y="424.6" font-size="14" text-anchor="middle" fill="#000" stroke="#000" stroke-width="0.7" font-weight="normal">3&#8217; Htz1</text>
<text x="386" y="424.6" font-size="14" text-anchor="middle" fill="#334845" stroke="#334845" stroke-width="0.7" font-weight="normal">Int.</text>
<text x="441.5" y="424.6" font-size="14" text-anchor="middle" fill="#9daba7" stroke="#9daba7" stroke-width="0.7" font-weight="normal">No 3&#8217; Htz1</text>
<text x="334" y="441.3" font-size="14" text-anchor="middle" fill="#000" stroke="#000" stroke-width="0.7" font-weight="normal"><tspan font-style="italic">n</tspan> =986</text>
<text x="387" y="441.3" font-size="14" text-anchor="middle" fill="#334845" stroke="#334845" stroke-width="0.7" font-weight="normal"><tspan font-style="italic">n</tspan> = 910</text>
<text x="443" y="441.3" font-size="14" text-anchor="middle" fill="#9daba7" stroke="#9daba7" stroke-width="0.7" font-weight="normal"><tspan font-style="italic">n</tspan> =1547</text>
<text x="271" y="481" font-size="22" text-anchor="start" fill="#000" stroke="#000" stroke-width="0.7" font-weight="normal">F</text>
<line x1="309.4" y1="502" x2="309.4" y2="633.9" stroke="#1e1e1e" stroke-width="1" />
<line x1="306.9" y1="502" x2="309.4" y2="502" stroke="#1e1e1e" stroke-width="1" />
<text x="305" y="505.8" font-size="13" text-anchor="end" fill="#000" stroke="#000" stroke-width="0.7" font-weight="normal">25</text>
<line x1="306.9" y1="528.2" x2="309.4" y2="528.2" stroke="#1e1e1e" stroke-width="1" />
<text x="305" y="532.4" font-size="13" text-anchor="end" fill="#000" stroke="#000" stroke-width="0.7" font-weight="normal">20</text>
<line x1="306.9" y1="555.2" x2="309.4" y2="555.2" stroke="#1e1e1e" stroke-width="1" />
<text x="305" y="559" font-size="13" text-anchor="end" fill="#000" stroke="#000" stroke-width="0.7" font-weight="normal">15</text>
<line x1="306.9" y1="581.1" x2="309.4" y2="581.1" stroke="#1e1e1e" stroke-width="1" />
<text x="305" y="585.6" font-size="13" text-anchor="end" fill="#000" stroke="#000" stroke-width="0.7" font-weight="normal">10</text>
<line x1="306.9" y1="607.3" x2="309.4" y2="607.3" stroke="#1e1e1e" stroke-width="1" />
<text x="305" y="612.2" font-size="13" text-anchor="end" fill="#000" stroke="#000" stroke-width="0.7" font-weight="normal">5</text>
<line x1="306.9" y1="633.9" x2="309.4" y2="633.9" stroke="#1e1e1e" stroke-width="1" />
<text x="305" y="638" font-size="13" text-anchor="end" fill="#000" stroke="#000" stroke-width="0.7" font-weight="normal">0</text>
<text x="0" y="0" font-size="14.25" text-anchor="middle" fill="#000" stroke="#000" stroke-width="0.7" transform="translate(282.6,568.4) rotate(-90)">H3K9ac level</text>
<polyline points="339.4,510.3 339.4,496 439.2,496 439.2,520.2" fill="none" stroke="#111" stroke-width="1.5"/>
<polygon points="389.50,488.15 390.29,489.81 392.12,490.05 390.78,491.32 391.12,493.12 389.50,492.25 387.88,493.12 388.22,491.32 386.88,490.05 388.71,489.81" fill="#000" stroke="#000" stroke-width="0.4" stroke-linejoin="round"/>
<line x1="339.5" y1="515.6" x2="339.5" y2="565.4" stroke="#6a6a6a" stroke-width="1.75" stroke-dasharray="4.2 2.8"/>
<line x1="339.5" y1="602.4" x2="339.5" y2="621.4" stroke="#6a6a6a" stroke-width="1.75" stroke-dasharray="4.2 2.8"/>
<line x1="329.5" y1="515.6" x2="349.5" y2="515.6" stroke="#1e1e1e" stroke-width="1.3" />
<line x1="329.5" y1="621.4" x2="349.5" y2="621.4" stroke="#1e1e1e" stroke-width="1.3" />
<rect x="319.5" y="565.4" width="40" height="37.00" fill="#fff" stroke="#1e1e1e" stroke-width="1.2"/>
<line x1="319.5" y1="575.5" x2="359.5" y2="575.5" stroke="#0e0e0e" stroke-width="3" />
<line x1="389.5" y1="551.8" x2="389.5" y2="583.2" stroke="#6f7d7b" stroke-width="1.6" stroke-dasharray="4.2 2.8"/>
<line x1="389.5" y1="609.7" x2="389.5" y2="633.9" stroke="#6f7d7b" stroke-width="1.6" stroke-dasharray="4.2 2.8"/>
<line x1="379.5" y1="551.8" x2="399.5" y2="551.8" stroke="#485856" stroke-width="1.3" />
<line x1="379.5" y1="633.9" x2="399.5" y2="633.9" stroke="#485856" stroke-width="1.3" />
<rect x="369.5" y="583.2" width="40" height="26.50" fill="#fff" stroke="#485856" stroke-width="1.2"/>
<line x1="369.5" y1="596.2" x2="409.5" y2="596.2" stroke="#223232" stroke-width="3" />
<line x1="438.9" y1="572" x2="438.9" y2="597.5" stroke="#c6cecc" stroke-width="1.5" stroke-dasharray="4.2 2.8"/>
<line x1="438.9" y1="619" x2="438.9" y2="632.4" stroke="#c6cecc" stroke-width="1.5" stroke-dasharray="4.2 2.8"/>
<line x1="428.9" y1="572" x2="448.9" y2="572" stroke="#c6cecc" stroke-width="1.3" />
<line x1="428.9" y1="632.4" x2="448.9" y2="632.4" stroke="#c6cecc" stroke-width="1.3" />
<rect x="419.29999999999995" y="597.5" width="39.2" height="21.50" fill="#fff" stroke="#c6cecc" stroke-width="1.2"/>
<line x1="419.29999999999995" y1="607.6" x2="458.49999999999994" y2="607.6" stroke="#acb7b4" stroke-width="2.6" />
<text x="333.5" y="654.5" font-size="14" text-anchor="middle" fill="#000" stroke="#000" stroke-width="0.7" font-weight="normal">3&#8217; Htz1</text>
<text x="390" y="654.5" font-size="14" text-anchor="middle" fill="#334845" stroke="#334845" stroke-width="0.7" font-weight="normal">Int.</text>
<text x="440.5" y="654.5" font-size="14" text-anchor="middle" fill="#9daba7" stroke="#9daba7" stroke-width="0.7" font-weight="normal">No 3&#8217; Htz1</text>
<text x="334" y="671.2" font-size="14" text-anchor="middle" fill="#000" stroke="#000" stroke-width="0.2" font-weight="bold"><tspan font-style="italic">n</tspan> =21</text>
<text x="389" y="671.2" font-size="14" text-anchor="middle" fill="#334845" stroke="#334845" stroke-width="0.2" font-weight="bold"><tspan font-style="italic">n</tspan> =34</text>
<text x="441" y="671.2" font-size="14" text-anchor="middle" fill="#9daba7" stroke="#9daba7" stroke-width="0.7" font-weight="normal"><tspan font-style="italic">n</tspan> =70</text>
<text x="270.4" y="713.5" font-size="22" text-anchor="start" fill="#000" stroke="#000" stroke-width="0.7" font-weight="normal">H</text>
<line x1="309.5" y1="734.2" x2="309.5" y2="864.7" stroke="#1e1e1e" stroke-width="1" />
<line x1="307.0" y1="734.2" x2="309.5" y2="734.2" stroke="#1e1e1e" stroke-width="1" />
<text x="305.2" y="736.6" font-size="13" text-anchor="end" fill="#000" stroke="#000" stroke-width="0.7" font-weight="normal">25</text>
<line x1="307.0" y1="760" x2="309.5" y2="760" stroke="#1e1e1e" stroke-width="1" />
<text x="305.2" y="764.5" font-size="13" text-anchor="end" fill="#000" stroke="#000" stroke-width="0.7" font-weight="normal">20</text>
<line x1="307.0" y1="786.2" x2="309.5" y2="786.2" stroke="#1e1e1e" stroke-width="1" />
<text x="305.2" y="790.8" font-size="13" text-anchor="end" fill="#000" stroke="#000" stroke-width="0.7" font-weight="normal">15</text>
<line x1="307.0" y1="812.4" x2="309.5" y2="812.4" stroke="#1e1e1e" stroke-width="1" />
<text x="305.2" y="816.8" font-size="13" text-anchor="end" fill="#000" stroke="#000" stroke-width="0.7" font-weight="normal">10</text>
<line x1="307.0" y1="838.5" x2="309.5" y2="838.5" stroke="#1e1e1e" stroke-width="1" />
<text x="305.2" y="842.8" font-size="13" text-anchor="end" fill="#000" stroke="#000" stroke-width="0.7" font-weight="normal">5</text>
<line x1="307.0" y1="864.7" x2="309.5" y2="864.7" stroke="#1e1e1e" stroke-width="1" />
<text x="305.2" y="867.5" font-size="13" text-anchor="end" fill="#000" stroke="#000" stroke-width="0.7" font-weight="normal">0</text>
<text x="0" y="0" font-size="14.25" text-anchor="middle" fill="#000" stroke="#000" stroke-width="0.7" transform="translate(282.8,795.2) rotate(-90)">H4K12ac level</text>
<polyline points="338,740.3 338,726.4 439.6,726.4 439.6,750.7" fill="none" stroke="#111" stroke-width="1.5"/>
<polygon points="389.70,718.85 390.49,720.51 392.32,720.75 390.98,722.02 391.32,723.82 389.70,722.95 388.08,723.82 388.42,722.02 387.08,720.75 388.91,720.51" fill="#000" stroke="#000" stroke-width="0.4" stroke-linejoin="round"/>
<line x1="339.5" y1="746.7" x2="339.5" y2="784.3" stroke="#6a6a6a" stroke-width="1.75" stroke-dasharray="4.2 2.8"/>
<line x1="339.5" y1="820.3" x2="339.5" y2="851" stroke="#6a6a6a" stroke-width="1.75" stroke-dasharray="4.2 2.8"/>
<line x1="329.5" y1="746.7" x2="349.5" y2="746.7" stroke="#1e1e1e" stroke-width="1.3" />
<line x1="329.5" y1="851" x2="349.5" y2="851" stroke="#1e1e1e" stroke-width="1.3" />
<rect x="319.5" y="784.3" width="40" height="36.00" fill="#fff" stroke="#1e1e1e" stroke-width="1.2"/>
<line x1="319.5" y1="804.9" x2="359.5" y2="804.9" stroke="#0e0e0e" stroke-width="3" />
<line x1="389.5" y1="780.2" x2="389.5" y2="799.5" stroke="#6f7d7b" stroke-width="1.6" stroke-dasharray="4.2 2.8"/>
<line x1="389.5" y1="836" x2="389.5" y2="865" stroke="#6f7d7b" stroke-width="1.6" stroke-dasharray="4.2 2.8"/>
<line x1="379.5" y1="780.2" x2="399.5" y2="780.2" stroke="#485856" stroke-width="1.3" />
<line x1="379.5" y1="865" x2="399.5" y2="865" stroke="#485856" stroke-width="1.3" />
<rect x="369.5" y="799.5" width="40" height="36.50" fill="#fff" stroke="#485856" stroke-width="1.2"/>
<line x1="369.5" y1="827" x2="409.5" y2="827" stroke="#223232" stroke-width="3" />
<line x1="438.9" y1="792.5" x2="438.9" y2="822.3" stroke="#c6cecc" stroke-width="1.5" stroke-dasharray="4.2 2.8"/>
<line x1="438.9" y1="842.2" x2="438.9" y2="859.3" stroke="#c6cecc" stroke-width="1.5" stroke-dasharray="4.2 2.8"/>
<line x1="428.9" y1="792.5" x2="448.9" y2="792.5" stroke="#c6cecc" stroke-width="1.3" />
<line x1="428.9" y1="859.3" x2="448.9" y2="859.3" stroke="#c6cecc" stroke-width="1.3" />
<rect x="419.29999999999995" y="822.3" width="39.2" height="19.90" fill="#fff" stroke="#c6cecc" stroke-width="1.2"/>
<line x1="419.29999999999995" y1="834.4" x2="458.49999999999994" y2="834.4" stroke="#acb7b4" stroke-width="2.6" />
<text x="333.5" y="882.8" font-size="14" text-anchor="middle" fill="#000" stroke="#000" stroke-width="0.7" font-weight="normal">3&#8217; Htz1</text>
<text x="386" y="882.8" font-size="14" text-anchor="middle" fill="#334845" stroke="#334845" stroke-width="0.7" font-weight="normal">Int.</text>
<text x="441.5" y="882.8" font-size="14" text-anchor="middle" fill="#9daba7" stroke="#9daba7" stroke-width="0.7" font-weight="normal">No 3&#8217; Htz1</text>
<text x="334" y="898.8" font-size="14" text-anchor="middle" fill="#000" stroke="#000" stroke-width="0.2" font-weight="bold"><tspan font-style="italic">n</tspan> =21</text>
<text x="387" y="898.8" font-size="14" text-anchor="middle" fill="#334845" stroke="#334845" stroke-width="0.2" font-weight="bold"><tspan font-style="italic">n</tspan> =34</text>
<text x="443" y="898.8" font-size="14" text-anchor="middle" fill="#9daba7" stroke="#9daba7" stroke-width="0.7" font-weight="normal"><tspan font-style="italic">n</tspan> =70</text>
</svg>
</body></html>
